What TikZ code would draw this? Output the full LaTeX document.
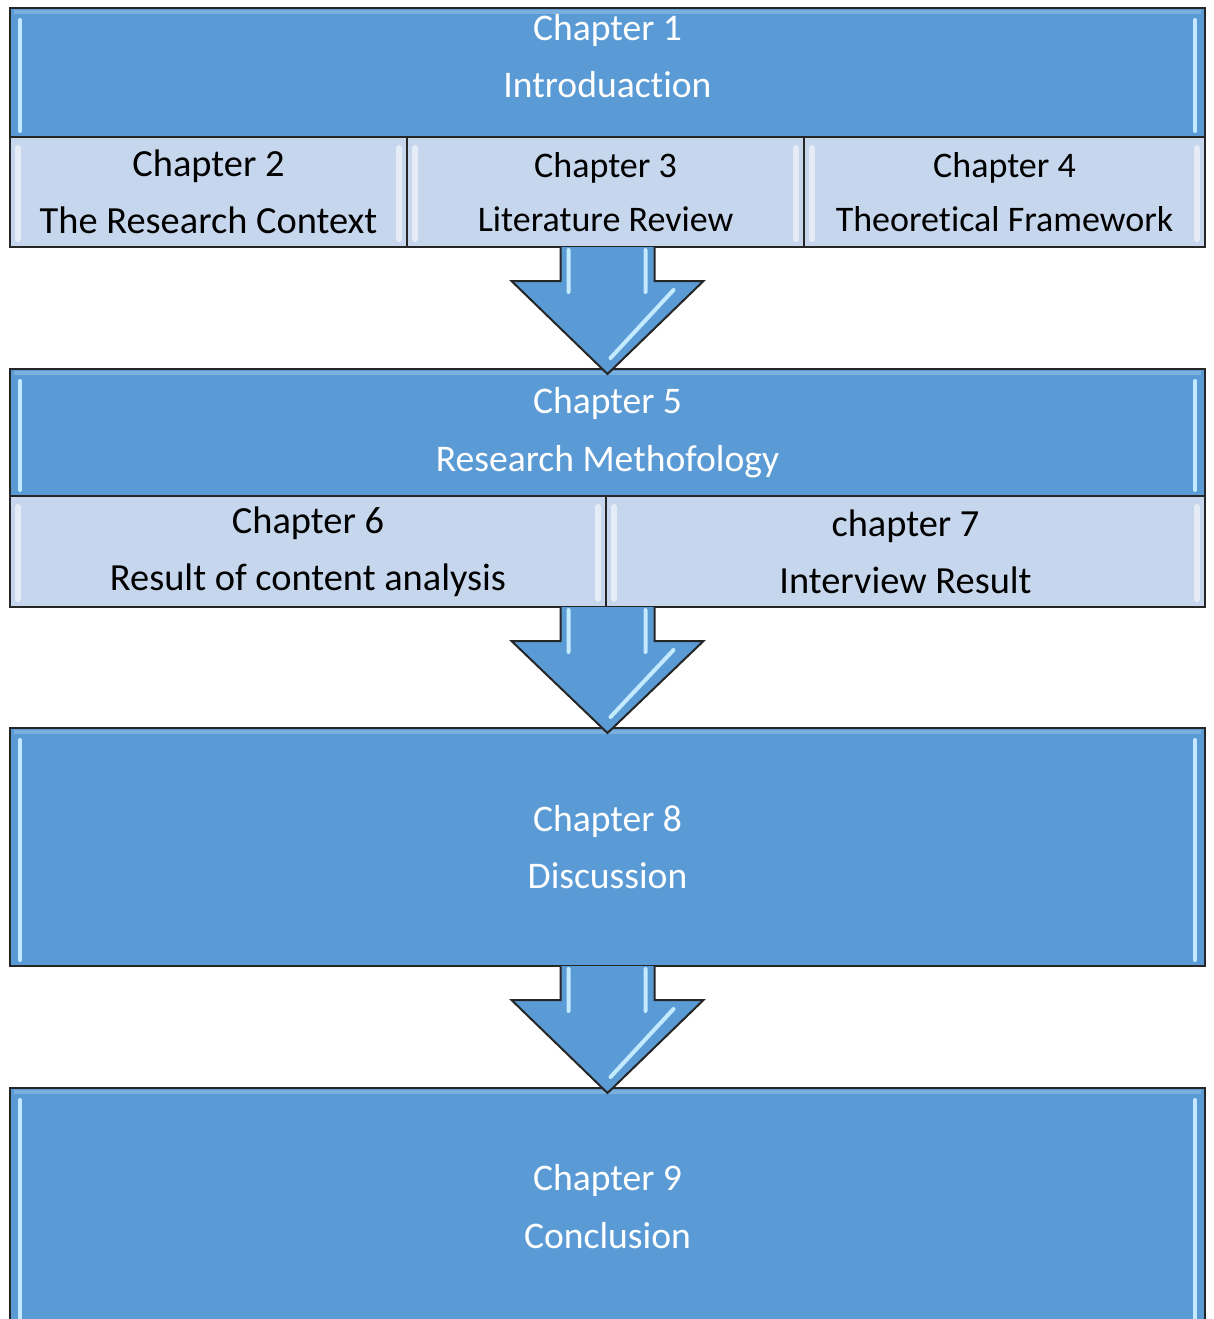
\documentclass[tikz,border=0pt]{standalone}
\usepackage{fontspec}
\setmainfont{Carlito}[RawFeature=-liga]
\usetikzlibrary{calc}

\definecolor{chblue}{HTML}{5B9BD5}
\definecolor{chlight}{HTML}{C6D6EC}
\definecolor{glint}{HTML}{C4EAFF}

% block arrow from the bottom of one row to the top of the next
\newcommand\flowarrow[2]{%
  \fill[chblue] ($(#1)+(-47,0)$) -- ++(0,34) -- ++(-49,0) -- ($(#2)+(0,5)$)
    -- ($(#1)+(96,34)$) -- ++(-49,0) -- ++(0,-34) -- cycle;
  \draw[arrow edge] ($(#1)+(-47,0)$) -- ++(0,34) -- ++(-49,0) -- ($(#2)+(0,5)$)
    -- ($(#1)+(96,34)$) -- ++(-49,0) -- ++(0,-34);
  \draw[glint line] ($(#1)+(-39,3)$) -- ++(0,42) ($(#1)+(38,3)$) -- ++(0,42)
    ($(#1)+(66,43)$) -- ($(#2)+(3,-11)$);
}

\begin{document}
\begin{tikzpicture}[x=1pt, y=-1pt,
    blue box/.style={draw=black!85, line width=2pt, fill=chblue, text=white, anchor=north west,
                     inner sep=0pt, outer sep=0pt, align=center, font=\fontsize{37.6}{57.5}\selectfont},
    light box/.style={blue box, fill=chlight, text=black, font=\fontsize{38.4}{57}\selectfont},
    shrunk text/.style={font=\fontsize{36}{54}\selectfont},
    box text/.style={text=white, align=center, font=\fontsize{37.6}{57}\selectfont},
    arrow edge/.style={draw=black!85, line width=2pt, line join=miter},
    glint line/.style={draw=glint, line width=4pt, line cap=round},
    soft glint/.style={draw=white, opacity=0.55, line width=6pt, line cap=round},
    top glint/.style={draw=white, opacity=0.2, line width=4pt}
]
\useasboundingbox (0,0) rectangle (1213,1319);
\fill[white] (0,0) rectangle (1213,1319);

% Chapter 1
\node[blue box, minimum width=1195, minimum height=129] (ch1) at (10,8) {};
\node[box text] (ch1 text) at ($(ch1.center)+(0,-16)$) {Chapter 1\\Introduaction};

% Chapters 2-4
\node[light box, minimum width=397, minimum height=110] (ch2) at (10,137) {Chapter 2\\The Research Context};
\node[light box, shrunk text, minimum width=397, minimum height=110] (ch3) at (ch2.north east) {Chapter 3\\Literature Review};
\node[light box, shrunk text, minimum width=401, minimum height=110] (ch4) at (ch3.north east) {Chapter 4\\Theoretical Framework};

% Chapter 5
\node[blue box, minimum width=1195, minimum height=127] (ch5) at (10,369) {Chapter 5\\Research Methofology};

% Chapters 6-7
\node[light box, minimum width=596, minimum height=111] (ch6) at (10,496) {Chapter 6\\Result of content analysis};
\node[light box, minimum width=599, minimum height=111] (ch7) at (ch6.north east) {chapter 7\\Interview Result};

% Chapter 8
\node[blue box, minimum width=1195, minimum height=238] (ch8) at (10,728) {Chapter 8\\Discussion};

% Chapter 9
\node[blue box, minimum width=1195, minimum height=237] (ch9) at (10,1088) {Chapter 9\\Conclusion};

% Bevels
\foreach \n in {ch1,ch5,ch8,ch9}{
  \draw[glint line] ($(\n.north west)+(10,12)$) -- ($(\n.south west)+(10,-6)$)
                    ($(\n.north east)+(-10,12)$) -- ($(\n.south east)+(-10,-6)$);
  \draw[top glint] ($(\n.north west)+(4,4)$) -- ($(\n.north east)+(-4,4)$);
}
\foreach \n in {ch2,ch3,ch4,ch6,ch7}{
  \draw[soft glint] ($(\n.north west)+(8,11)$) -- ($(\n.south west)+(8,-8)$)
                    ($(\n.north east)+(-8,11)$) -- ($(\n.south east)+(-8,-8)$);
}

% Arrows
\coordinate (arrow1 top) at (ch3.south -| ch5.north);
\coordinate (arrow2 top) at (ch6.south east -| ch8.north);
\coordinate (arrow3 top) at (ch8.south);
\flowarrow{arrow1 top}{ch5.north}
\flowarrow{arrow2 top}{ch8.north}
\flowarrow{arrow3 top}{ch9.north}

\end{tikzpicture}
\end{document}
